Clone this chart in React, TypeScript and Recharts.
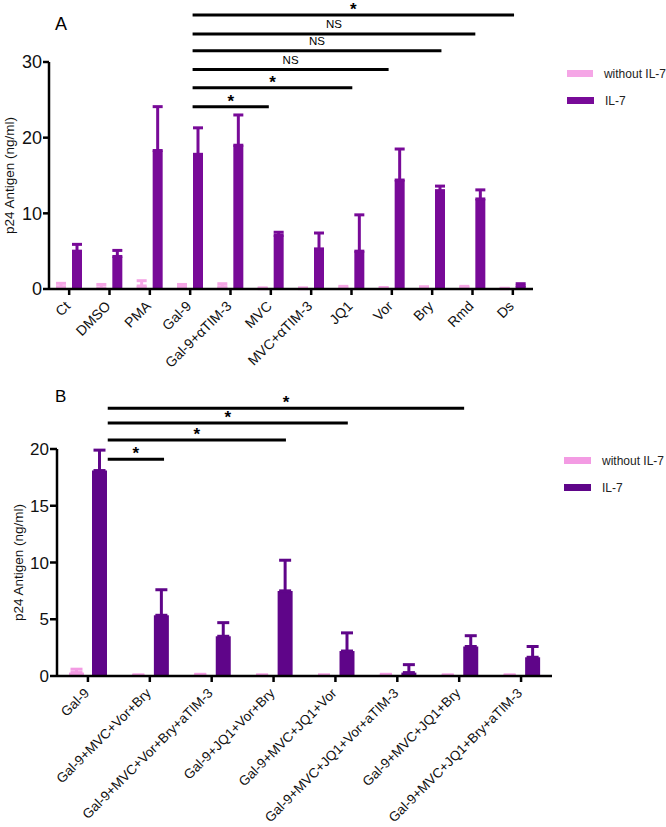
import React from "react";
import { BarChart, Bar, XAxis, YAxis, ErrorBar, ReferenceLine, Legend, Label } from "recharts";

const FONT = '"Liberation Sans", Arial, sans-serif';

const seriesNames = ["without IL-7", "IL-7"];

// Panel A
const categoriesA = ["Ct", "DMSO", "PMA", "Gal-9", "Gal-9+αTIM-3", "MVC", "MVC+αTIM-3", "JQ1", "Vor", "Bry", "Rmd", "Ds"];
const withoutA = [0.3, 0.15, 0.4, 0.2, 0.3, 0.05, 0.05, 0.15, 0.1, 0.15, 0.2, 0.05];
const withoutErrA = [0.45, 0.45, 0.7, 0.4, 0.4, 0.1, 0.1, 0.2, 0.1, 0.15, 0.15, 0.05];
const il7A = [5.0, 4.3, 18.3, 17.8, 19.0, 7.1, 5.3, 5.0, 14.4, 13.0, 11.9, 0.4];
const il7ErrA = [0.9, 0.8, 5.8, 3.5, 4.0, 0.4, 2.1, 4.8, 4.1, 0.6, 1.2, 0.3];
const ticksA = [0, 10, 20, 30];
// comparison bars: from / to in category units, y in ng/ml
const sigFromA = [3.06, 3.06, 3.06, 3.06, 3.06, 3.06];
const sigToA = [4.95, 7.02, 7.92, 9.23, 10.07, 11.03];
const sigYA = [24.1, 26.6, 29.0, 31.5, 33.7, 36.2];
const sigTextA = ["*", "*", "NS", "NS", "NS", "*"];

// Panel B
const categoriesB = [
  "Gal-9",
  "Gal-9+MVC+Vor+Bry",
  "Gal-9+MVC+Vor+Bry+aTIM-3",
  "Gal-9+JQ1+Vor+Bry",
  "Gal-9+MVC+JQ1+Vor",
  "Gal-9+MVC+JQ1+Vor+aTIM-3",
  "Gal-9+MVC+JQ1+Bry",
  "Gal-9+MVC+JQ1+Bry+aTIM-3",
];
const withoutB = [0.3, 0.05, 0.1, 0.05, 0.05, 0.1, 0.05, 0.05];
const withoutErrB = [0.3, 0.05, 0.05, 0.05, 0.05, 0.05, 0.05, 0.05];
const il7B = [18.1, 5.35, 3.5, 7.5, 2.2, 0.3, 2.6, 1.65];
const il7ErrB = [1.8, 2.25, 1.2, 2.7, 1.6, 0.7, 0.95, 0.95];
const ticksB = [0, 5, 10, 15, 20];
const sigFromB = [0.32, 0.32, 0.32, 0.32];
const sigToB = [1.23, 3.2, 4.2, 6.08];
const sigYB = [19.1, 20.8, 22.3, 23.6];
const sigTextB = ["*", "*", "*", "*"];

const buildRows = (cats: string[], w: number[], wErr: number[], v: number[], vErr: number[]) =>
  cats.map((name, i) => ({
    name,
    idx: i,
    without: w[i],
    withoutErr: [0, wErr[i]],
    il7: v[i],
    il7Err: [0, vErr[i]],
  }));

const dataA = buildRows(categoriesA, withoutA, withoutErrA, il7A, il7ErrA);
const dataB = buildRows(categoriesB, withoutB, withoutErrB, il7B, il7ErrB);

const SlantTick = (props: any) => {
  const { x, y, payload, fontSize } = props;
  const px = x + 2;
  const py = y + 10;
  return (
    <text
      x={px}
      y={py}
      transform={`rotate(-45, ${px}, ${py})`}
      textAnchor="end"
      fontSize={fontSize}
      fontFamily={FONT}
      fill="#111"
    >
      {payload.value}
    </text>
  );
};

const renderLegend = (props: any) => {
  const items = [...(props.payload || [])].sort(
    (a: any, b: any) => seriesNames.indexOf(a.value) - seriesNames.indexOf(b.value)
  );
  return (
    <div style={{ fontFamily: FONT, fontSize: 12, color: "#222", whiteSpace: "nowrap" }}>
      {items.map((item: any) => (
        <div key={item.value} style={{ display: "flex", alignItems: "center", height: 27 }}>
          <span
            style={{
              display: "inline-block",
              width: 27,
              height: 7,
              background: item.payload?.fill ?? item.color,
              marginRight: 11,
            }}
          />
          <span>{item.value}</span>
        </div>
      ))}
    </div>
  );
};

const sigLines = (from: number[], to: number[], ys: number[], texts: string[]) =>
  from.map((f, i) => (
    <ReferenceLine
      key={`sig-${i}`}
      xAxisId="sig"
      segment={[
        { x: f, y: ys[i] },
        { x: to[i], y: ys[i] },
      ]}
      stroke="#000"
      strokeWidth={3}
      ifOverflow="visible"
      label={{
        value: texts[i],
        position: "top",
        offset: texts[i] === "*" ? 0 : 6,
        style: {
          fontFamily: FONT,
          fontSize: texts[i] === "*" ? 17 : 11.5,
          fontWeight: texts[i] === "*" ? 700 : 400,
          fill: "#000",
        },
      }}
    />
  ));

const axisStroke = { stroke: "#000", strokeWidth: 2.5 };

const App: React.FC = () => {
  return (
    <div style={{ position: "absolute", left: 0, top: 0, width: 666, height: 827, background: "#fff" }}>
      <div style={{ position: "absolute", left: 55, top: 15, fontFamily: FONT, fontSize: 18, lineHeight: 1 }}>A</div>
      <div style={{ position: "absolute", left: 55, top: 388, fontFamily: FONT, fontSize: 17, lineHeight: 1 }}>B</div>

      {/* Panel A */}
      <div style={{ position: "absolute", left: 0, top: 0 }}>
        <BarChart
          width={666}
          height={390}
          data={dataA}
          margin={{ top: 62, right: 133, bottom: 0, left: 0 }}
          barGap={6}
        >
          <XAxis
            dataKey="name"
            interval={0}
            height={101}
            tickSize={6}
            axisLine={axisStroke}
            tickLine={axisStroke}
            tick={<SlantTick fontSize={14} />}
          />
          <XAxis
            xAxisId="sig"
            dataKey="idx"
            type="number"
            domain={[-0.5, 11.5]}
            allowDataOverflow
            height={0}
            axisLine={false}
            tickLine={false}
            tick={false}
          />
          <YAxis
            width={49}
            domain={[0, 30]}
            ticks={ticksA}
            tickSize={6}
            tickMargin={1}
            axisLine={axisStroke}
            tickLine={axisStroke}
            tick={{ fontSize: 18, fill: "#111", fontFamily: FONT }}
          >
            <Label
              value="p24 Antigen (ng/ml)"
              angle={-90}
              position="insideLeft"
              offset={9}
              style={{ textAnchor: "middle", fontSize: 13.5, fontFamily: FONT, fill: "#111" }}
            />
          </YAxis>
          <Legend
            layout="vertical"
            align="center"
            verticalAlign="middle"
            content={renderLegend}
            wrapperStyle={{ left: 567, top: 60, width: 99 }}
          />
          <Bar dataKey="without" name="without IL-7" fill="#f5a6e6" barSize={10} isAnimationActive={false}>
            <ErrorBar dataKey="withoutErr" direction="y" width={5} strokeWidth={3} stroke="#f5a6e6" />
          </Bar>
          <Bar dataKey="il7" name="IL-7" fill="#780a98" barSize={10} isAnimationActive={false}>
            <ErrorBar dataKey="il7Err" direction="y" width={5} strokeWidth={3} stroke="#780a98" />
          </Bar>
          {sigLines(sigFromA, sigToA, sigYA, sigTextA)}
        </BarChart>
      </div>

      {/* Panel B */}
      <div style={{ position: "absolute", left: 0, top: 390 }}>
        <BarChart
          width={666}
          height={437}
          data={dataB}
          margin={{ top: 59, right: 114, bottom: 0, left: 0 }}
          barGap={8}
        >
          <XAxis
            dataKey="name"
            interval={0}
            height={151}
            tickSize={6}
            axisLine={axisStroke}
            tickLine={axisStroke}
            tick={<SlantTick fontSize={13.5} />}
          />
          <XAxis
            xAxisId="sig"
            dataKey="idx"
            type="number"
            domain={[-0.5, 7.5]}
            allowDataOverflow
            height={0}
            axisLine={false}
            tickLine={false}
            tick={false}
          />
          <YAxis
            width={57}
            domain={[0, 20]}
            ticks={ticksB}
            tickSize={7}
            tickMargin={1}
            axisLine={axisStroke}
            tickLine={axisStroke}
            tick={{ fontSize: 17, fill: "#111", fontFamily: FONT }}
          >
            <Label
              value="p24  Antigen (ng/ml)"
              angle={-90}
              position="insideLeft"
              offset={18}
              style={{ textAnchor: "middle", fontSize: 13.5, fontFamily: FONT, fill: "#111", whiteSpace: "pre" }}
            />
          </YAxis>
          <Legend
            layout="vertical"
            align="center"
            verticalAlign="middle"
            content={renderLegend}
            wrapperStyle={{ left: 564, top: 57, width: 102 }}
          />
          <Bar dataKey="without" name="without IL-7" fill="#f39be3" barSize={15} isAnimationActive={false}>
            <ErrorBar dataKey="withoutErr" direction="y" width={6} strokeWidth={3} stroke="#f39be3" />
          </Bar>
          <Bar dataKey="il7" name="IL-7" fill="#5f0589" barSize={15} isAnimationActive={false}>
            <ErrorBar dataKey="il7Err" direction="y" width={6} strokeWidth={3} stroke="#5f0589" />
          </Bar>
          {sigLines(sigFromB, sigToB, sigYB, sigTextB)}
        </BarChart>
      </div>
    </div>
  );
};

export default App;
